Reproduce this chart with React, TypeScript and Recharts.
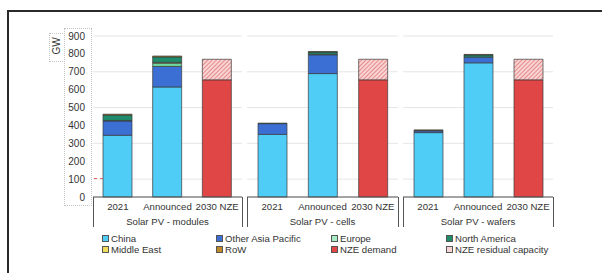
import React from 'react';
import { BarChart, Bar, XAxis, YAxis, CartesianGrid } from 'recharts';

const categories = ['2021', 'Announced', '2030 NZE'];
const groups = ['Solar PV - modules', 'Solar PV - cells', 'Solar PV - wafers'];
const yTicks = [0, 100, 200, 300, 400, 500, 600, 700, 800, 900];

// one value per category, panels in order modules / cells / wafers
const china = [345, 615, 0, 350, 690, 0, 360, 750, 0];
const otherAsiaPacific = [80, 115, 0, 60, 105, 0, 10, 32, 0];
const europe = [3, 18, 0, 0, 3, 0, 0, 0, 0];
const middleEast = [0, 5, 0, 0, 0, 0, 0, 0, 0];
const northAmerica = [30, 30, 0, 3, 12, 0, 2, 12, 0];
const restOfWorld = [5, 5, 0, 0, 3, 0, 3, 3, 0];
const nzeDemand = [0, 0, 655, 0, 0, 655, 0, 0, 655];
const nzeResidual = [0, 0, 115, 0, 0, 115, 0, 0, 115];

const series = [
  { key: 'china', name: 'China', values: china, fill: '#4fcdf6' },
  { key: 'oap', name: 'Other Asia Pacific', values: otherAsiaPacific, fill: '#3c6fd3' },
  { key: 'europe', name: 'Europe', values: europe, fill: '#6fd8a0' },
  { key: 'me', name: 'Middle East', values: middleEast, fill: '#eedc5a' },
  { key: 'na', name: 'North America', values: northAmerica, fill: '#1f8c6c' },
  { key: 'row', name: 'RoW', values: restOfWorld, fill: '#c08a2a' },
  { key: 'nze', name: 'NZE demand', values: nzeDemand, fill: '#e04646' },
  { key: 'res', name: 'NZE residual capacity', values: nzeResidual, fill: 'url(#hatch)' },
];

const legendCols = [
  ['China', 'Middle East'],
  ['Other Asia Pacific', 'RoW'],
  ['Europe', 'NZE demand'],
  ['North America', 'NZE residual capacity'],
];
const legendSwatch: Record<string, string> = {
  China: '#4fcdf6',
  'Middle East': '#eedc5a',
  'Other Asia Pacific': '#3c6fd3',
  RoW: '#c08a2a',
  Europe: '#a8ecc4',
  'NZE demand': '#e04646',
  'North America': '#1f8c6c',
  'NZE residual capacity': '#f6d6d6',
};

const FONT = '"Liberation Sans", Arial, sans-serif';
const TEXT = '#333';

const panelData = (p: number) =>
  categories.map((c, i) => {
    const row: Record<string, string | number> = { cat: c };
    series.forEach((s) => {
      row[s.key] = s.values[p * 3 + i];
    });
    return row;
  });

const makeTick = (group: string) => (props: any) => {
  const { x, y, payload, index } = props;
  return (
    <g>
      <text x={x} y={y - 2} dy="0.71em" textAnchor="middle" fontSize={9.6} fill={TEXT} fontFamily={FONT}>
        {payload.value}
      </text>
      {index === 1 && (
        <text x={x} y={y + 13} dy="0.71em" textAnchor="middle" fontSize={9.6} fill={TEXT} fontFamily={FONT}>
          {group}
        </text>
      )}
    </g>
  );
};

const panels = [
  { left: 0, width: 242, yAxis: true },
  { left: 247, width: 151, yAxis: false },
  { left: 403, width: 150, yAxis: false },
];

const Panel = ({ p }: { p: number }) => {
  const cfg = panels[p];
  return (
    <div style={{ position: 'absolute', left: cfg.left, top: 0 }}>
      <BarChart
        width={cfg.width}
        height={235}
        data={panelData(p)}
        margin={{ top: 36, right: 0, left: 0, bottom: 8 }}
        barSize={29}
      >
        <defs>
          <pattern id="hatch" patternUnits="userSpaceOnUse" width="3" height="3" patternTransform="rotate(45)">
            <rect width="3" height="3" fill="#f8d4d4" />
            <line x1="0" y1="0" x2="0" y2="3" stroke="#de6262" strokeWidth="1.3" />
          </pattern>
        </defs>
        <CartesianGrid horizontal vertical={false} stroke="#e6e6e6" />
        <XAxis
          dataKey="cat"
          axisLine={{ stroke: '#555' }}
          tickLine={false}
          height={30}
          interval={0}
          tick={makeTick(groups[p])}
        />
        <YAxis
          hide={!cfg.yAxis}
          width={93}
          domain={[0, 900]}
          ticks={yTicks}
          axisLine={false}
          tickLine={false}
          tick={{ fontSize: 10, fill: TEXT, fontFamily: FONT }}
        />
        {series.map((s) => (
          <Bar
            key={s.key}
            dataKey={s.key}
            name={s.name}
            stackId="a"
            fill={s.fill}
            stroke="#3a3a3a"
            strokeWidth={0.7}
            isAnimationActive={false}
          />
        ))}
      </BarChart>
    </div>
  );
};

const dotted = (left: number, top: number, width: number, height: number) => (
  <div
    style={{
      position: 'absolute',
      left,
      top,
      width,
      height,
      border: '1px dotted #c4c4c4',
    }}
  />
);

const vline = (left: number) => (
  <div style={{ position: 'absolute', left, top: 197, width: 1, height: 30, background: '#555' }} />
);

export default function App() {
  return (
    <div
      style={{
        position: 'fixed',
        left: 0,
        top: 0,
        width: 602,
        height: 273,
        background: '#fff',
        overflow: 'hidden',
        fontFamily: FONT,
      }}
    >
      <div
        style={{
          position: 'absolute',
          left: 7,
          top: 10,
          width: 700,
          height: 400,
          border: '2px solid #2a2a2a',
        }}
      />
      {dotted(49, 33, 14, 27)}
      {dotted(64, 28, 26, 176)}
      <div
        style={{
          position: 'absolute',
          left: 47,
          top: 39,
          width: 20,
          height: 14,
          transform: 'rotate(-90deg)',
          fontSize: 10,
          color: TEXT,
          textAlign: 'center',
          lineHeight: '14px',
        }}
      >
        GW
      </div>
      {panels.map((_, p) => (
        <Panel key={p} p={p} />
      ))}
      {vline(93)}
      {vline(242)}
      {vline(247)}
      {vline(398)}
      {vline(403)}
      {vline(553)}
      <div
        style={{
          position: 'absolute',
          left: 94,
          top: 178,
          width: 9,
          borderTop: '1px dashed #e06060',
        }}
      />
      {legendCols.map((col, ci) => (
        <div key={ci} style={{ position: 'absolute', left: [102, 216, 331, 446][ci], top: 233 }}>
          {col.map((name) => (
            <div
              key={name}
              style={{
                display: 'flex',
                alignItems: 'center',
                height: 11,
                fontSize: 9.6,
                color: TEXT,
                whiteSpace: 'nowrap',
              }}
            >
              <span
                style={{
                  display: 'inline-block',
                  width: 5,
                  height: 5,
                  marginRight: 2,
                  background: legendSwatch[name],
                  border: '1px solid #555',
                }}
              />
              {name}
            </div>
          ))}
        </div>
      ))}
    </div>
  );
}
